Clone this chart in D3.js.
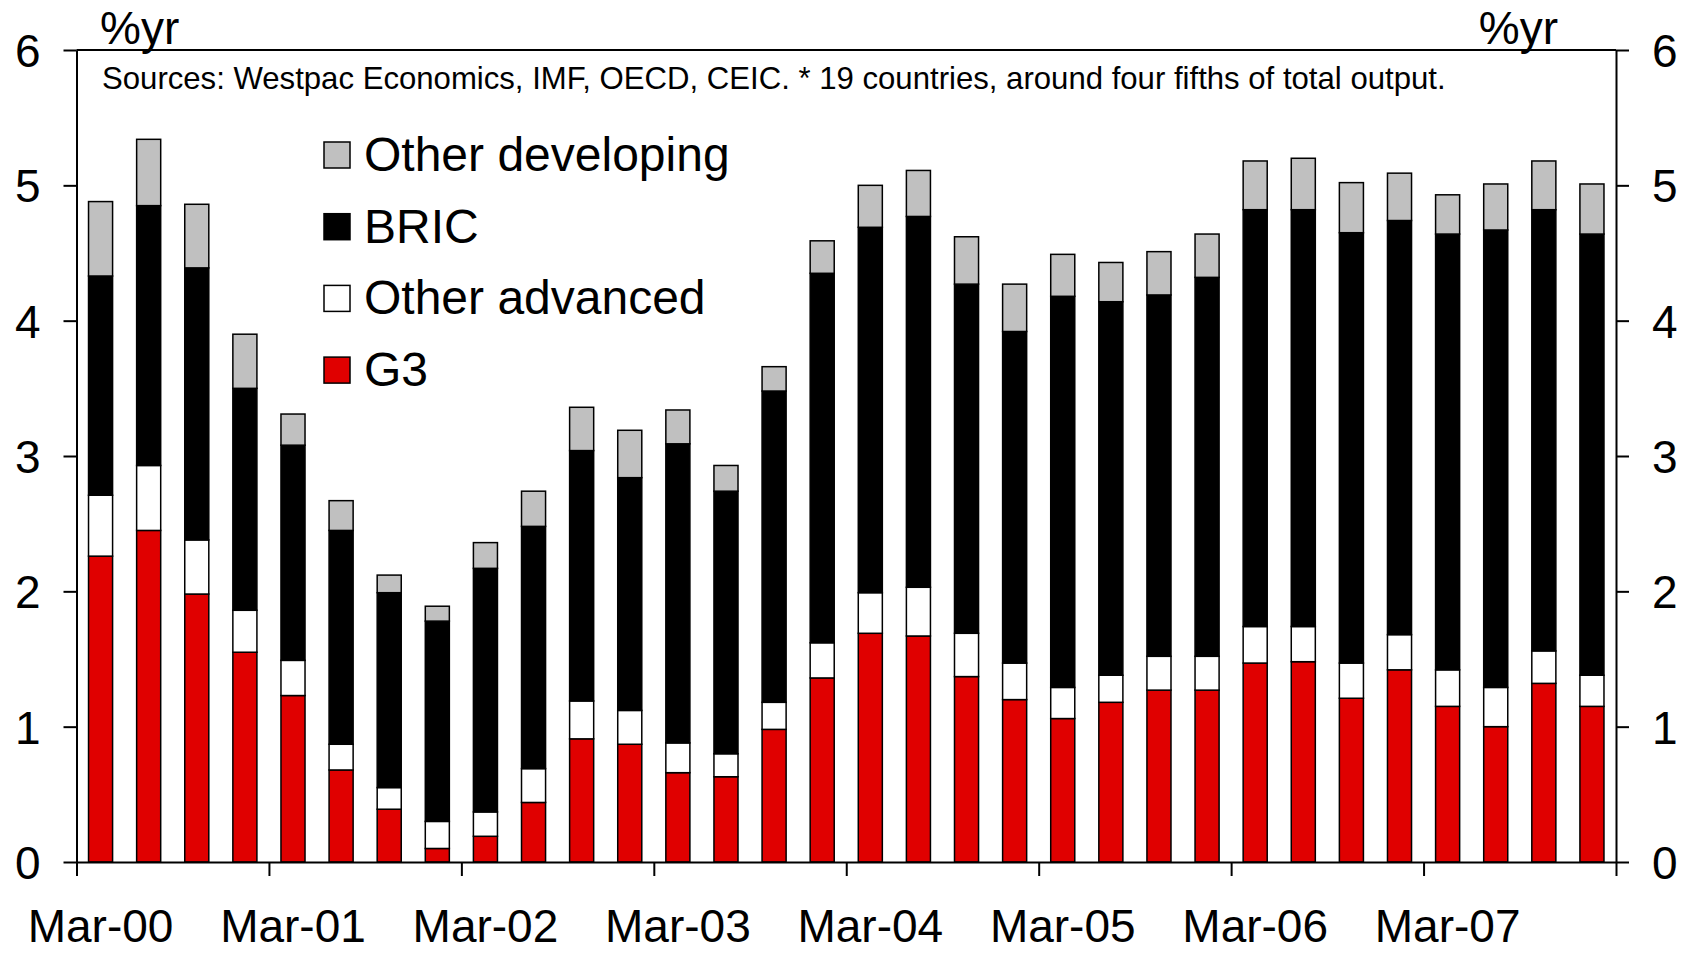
<!DOCTYPE html>
<html><head><meta charset="utf-8">
<script src="https://cdn.jsdelivr.net/npm/d3@7"></script>
<style>html,body{margin:0;padding:0;background:#fff;} svg{display:block;font-family:"Liberation Sans",Arial,sans-serif;}</style>
</head><body><svg id="c" width="1693" height="953"></svg>
<script>
const categories = [
  "Mar-00","Jun-00","Sep-00","Dec-00","Mar-01","Jun-01","Sep-01","Dec-01",
  "Mar-02","Jun-02","Sep-02","Dec-02","Mar-03","Jun-03","Sep-03","Dec-03",
  "Mar-04","Jun-04","Sep-04","Dec-04","Mar-05","Jun-05","Sep-05","Dec-05",
  "Mar-06","Jun-06","Sep-06","Dec-06","Mar-07","Jun-07","Sep-07","Dec-07"];
const g3 = [2.26,2.45,1.98,1.55,1.23,0.68,0.39,0.10,0.19,0.44,0.91,0.87,0.66,0.63,0.98,1.36,
            1.69,1.67,1.37,1.20,1.06,1.18,1.27,1.27,1.47,1.48,1.21,1.42,1.15,1.00,1.32,1.15];
const otherAdvanced = [0.45,0.48,0.40,0.31,0.26,0.19,0.16,0.20,0.18,0.25,0.28,0.25,0.22,0.17,0.20,0.26,
            0.30,0.36,0.32,0.27,0.23,0.20,0.25,0.25,0.27,0.26,0.26,0.26,0.27,0.29,0.24,0.23];
const bric = [1.62,1.92,2.01,1.64,1.59,1.58,1.44,1.48,1.80,1.79,1.85,1.72,2.21,1.94,2.30,2.73,
            2.70,2.74,2.58,2.45,2.89,2.76,2.67,2.80,3.08,3.08,3.18,3.06,3.22,3.38,3.26,3.26];
const otherDeveloping = [0.55,0.49,0.47,0.40,0.23,0.22,0.13,0.11,0.19,0.26,0.32,0.35,0.25,0.19,0.18,0.24,
            0.31,0.34,0.35,0.35,0.31,0.29,0.32,0.32,0.36,0.38,0.37,0.35,0.29,0.34,0.36,0.37];
const seriesNames = ["G3","Other advanced","BRIC","Other developing"];
const seriesColors = ["#e00000","#ffffff","#000000","#c0c0c0"];
const legendOrder = ["Other developing","BRIC","Other advanced","G3"];
const yTicks = [0,1,2,3,4,5,6];
const xLabels = ["Mar-00","Mar-01","Mar-02","Mar-03","Mar-04","Mar-05","Mar-06","Mar-07"];
const unitLabel = "%yr";
const sourceNote = "Sources: Westpac Economics, IMF, OECD, CEIC. * 19 countries, around four fifths of total output.";

const rows = categories.map((c,i) => ({cat:c, "G3":g3[i], "Other advanced":otherAdvanced[i], "BRIC":bric[i], "Other developing":otherDeveloping[i]}));

const L = 76.5, R = 1616, T = 50, B = 862;
const svg = d3.select("#c");
const x = d3.scaleBand().domain(categories).range([L,R]).paddingInner(0.5).paddingOuter(0.25);
const xi = d3.scaleLinear().domain([0, categories.length]).range([L,R]);
const y = d3.scaleLinear().domain([0,6]).range([B,T]);
const color = d3.scaleOrdinal().domain(seriesNames).range(seriesColors);

const stacked = d3.stack().keys(seriesNames)(rows);

// bars
svg.append("g").selectAll("g").data(stacked).join("g")
  .attr("fill", d => color(d.key))
  .selectAll("rect").data(d => d).join("rect")
  .attr("x", d => x(d.data.cat))
  .attr("width", x.bandwidth())
  .attr("y", d => y(d[1]))
  .attr("height", d => y(d[0]) - y(d[1]))
  .attr("stroke", "#000").attr("stroke-width", 1.5);

// frame top line
svg.append("line").attr("x1", L).attr("x2", R).attr("y1", y(6)).attr("y2", y(6))
  .attr("stroke","#000").attr("stroke-width",2);

// y axes
const yl = svg.append("g").attr("transform", `translate(${L},0)`)
  .call(d3.axisLeft(y).tickValues(yTicks).tickSize(13).tickSizeOuter(0).tickPadding(23).tickFormat(d3.format("d")));
const yr = svg.append("g").attr("transform", `translate(${R},0)`)
  .call(d3.axisRight(y).tickValues(yTicks).tickSize(13).tickSizeOuter(0).tickPadding(23).tickFormat(d3.format("d")));
[yl, yr].forEach(g => {
  g.selectAll("path,line").attr("stroke","#000").attr("stroke-width",2);
  g.selectAll("text").attr("font-size",46).attr("font-family","Liberation Sans, Arial, sans-serif").attr("fill","#000").attr("dy","0.36em");
});

// x axis tick marks at year boundaries
const xt = svg.append("g").attr("transform", `translate(0,${B})`)
  .call(d3.axisBottom(xi).tickValues(d3.range(0, categories.length + 1, 4)).tickSize(14).tickSizeOuter(0).tickFormat(""));
xt.selectAll("path,line").attr("stroke","#000").attr("stroke-width",2);

// x labels
const xlab = svg.append("g").attr("transform", `translate(0,${B})`)
  .call(d3.axisBottom(x).tickValues(xLabels).tickSize(0));
xlab.select(".domain").remove();
xlab.selectAll("text").attr("y", 80).attr("dy", 0).attr("font-size",46)
  .attr("font-family","Liberation Sans, Arial, sans-serif").attr("fill","#000");

// unit labels
svg.append("text").attr("x", 100).attr("y", 44).attr("font-size",46).text(unitLabel);
svg.append("text").attr("x", 1558).attr("y", 44).attr("text-anchor","end").attr("font-size",46).text(unitLabel);

// source note, fitted to width
const src = svg.append("text").attr("x", 102).attr("y", 89).attr("font-size",26).text(sourceNote);
const w = src.node().getComputedTextLength();
src.attr("font-size", 26 * 1344 / w);

// legend
const lg = svg.append("g");
legendOrder.forEach((name, i) => {
  const cy = 155 + i * 71.7;
  lg.append("rect").attr("x", 324).attr("y", cy - 13).attr("width", 26).attr("height", 26)
    .attr("fill", color(name)).attr("stroke","#000").attr("stroke-width",1.5);
  lg.append("text").attr("x", 364).attr("y", cy + 16).attr("font-size", 48).text(name);
});
</script></body></html>
